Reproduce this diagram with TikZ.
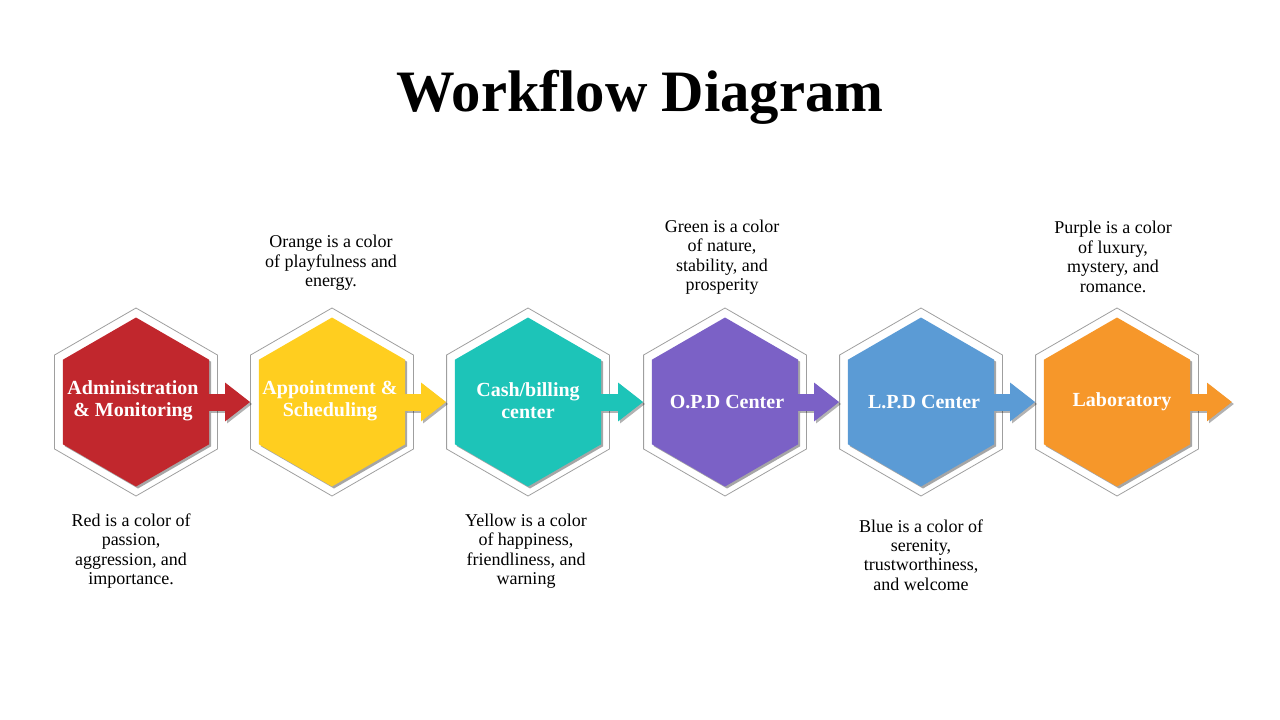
\documentclass[tikz,border=0pt]{standalone}
\usepackage{fontspec}
\setmainfont{Liberation Serif}
\usetikzlibrary{shapes}
\usetikzlibrary{positioning}
\usetikzlibrary{arrows.meta,shadows}

\definecolor{adminred}{HTML}{C1272D}
\definecolor{apptyellow}{HTML}{FFCE1F}
\definecolor{cashteal}{HTML}{1DC4B8}
\definecolor{opdpurple}{HTML}{7B61C6}
\definecolor{lpdblue}{HTML}{5B9BD5}
\definecolor{laborange}{HTML}{F6972A}

\begin{document}
\begin{tikzpicture}[x=0.75pt,y=-0.75pt,
	ring/.style={regular polygon,regular polygon sides=6,shape border rotate=30,minimum size=141pt,inner sep=0pt,draw=gray!75,line width=0.6pt},
	hex node/.style={regular polygon,regular polygon sides=6,shape border rotate=30,minimum size=126.75pt,inner sep=0pt,drop shadow={shadow xshift=1.5pt,shadow yshift=-1.5pt,opacity=.35,fill=black}},
	hex label/.style={align=center,text=white,inner sep=0pt,font=\bfseries\fontsize{15}{16.5}\selectfont},
	flow arrow/.style={line width=12.75pt,-{Triangle[width=27.75pt,length=18.75pt]}},
	arrow shadow/.style={flow arrow,draw=black,opacity=.3,transform canvas={xshift=1.5pt,yshift=-1.5pt}},
	note/.style={align=center,font=\fontsize{13.5}{14.6}\selectfont}]
	
	\useasboundingbox (0,0) rectangle (1280,720);
	
	\node[font=\bfseries\fontsize{44}{48}\selectfont,anchor=base] at (640,112) (title) {Workflow Diagram};
	
	% outlines
	\node[ring] at (136,402) (r1) {};
	\node[ring] at (332,402) (r2) {};
	\node[ring] at (528,402) (r3) {};
	\node[ring] at (725,402) (r4) {};
	\node[ring] at (921,402) (r5) {};
	\node[ring] at (1117,402) (r6) {};
	\coordinate (end) at (1232,402);
	
	% steps
	\node[hex node,fill=adminred] at (136,402) (1) {};
	\node[hex node,fill=apptyellow] at (332,402) (2) {};
	\node[hex node,fill=cashteal] at (528,402) (3) {};
	\node[hex node,fill=opdpurple] at (725,402) (4) {};
	\node[hex node,fill=lpdblue] at (921,402) (5) {};
	\node[hex node,fill=laborange] at (1117,402) (6) {};
	
	\draw[arrow shadow] (1) -- (r2);
	\draw[arrow shadow] (2) -- (r3);
	\draw[arrow shadow] (3) -- (r4);
	\draw[arrow shadow] (4) -- (r5);
	\draw[arrow shadow] (5) -- (r6);
	\draw[arrow shadow] (6) -- (end);
	
	\draw[flow arrow,adminred] (1) -- (r2);
	\draw[flow arrow,apptyellow] (2) -- (r3);
	\draw[flow arrow,cashteal] (3) -- (r4);
	\draw[flow arrow,opdpurple] (4) -- (r5);
	\draw[flow arrow,lpdblue] (5) -- (r6);
	\draw[flow arrow,laborange] (6) -- (end);
	
	\node[hex label] at (133,401) (l1) {Administration\\\& Monitoring};
	\node[hex label] at (330,401) (l2) {Appointment \&\\Scheduling};
	\node[hex label] at (528,401) (l3) {Cash/billing\\center};
	\node[hex label] at (727,402) (l4) {O.P.D Center};
	\node[hex label] at (924,402) (l5) {L.P.D Center};
	\node[hex label] at (1122,402) (l6) {Laboratory};
	
	% notes
	\node[note] at (131,551) (n1) {Red is a color of\\passion,\\aggression, and\\importance.};
	\node[note] at (331,263) (n2) {Orange is a color\\of playfulness and\\energy.};
	\node[note] at (526,551) (n3) {Yellow is a color\\of happiness,\\friendliness, and\\warning};
	\node[note] at (722,257) (n4) {Green is a color\\of nature,\\stability, and\\prosperity};
	\node[note] at (921,555) (n5) {Blue is a color of\\serenity,\\trustworthiness,\\and welcome};
	\node[note] at (1113,257) (n6) {Purple is a color\\of luxury,\\mystery, and\\romance.};
	
\end{tikzpicture}
\end{document}
